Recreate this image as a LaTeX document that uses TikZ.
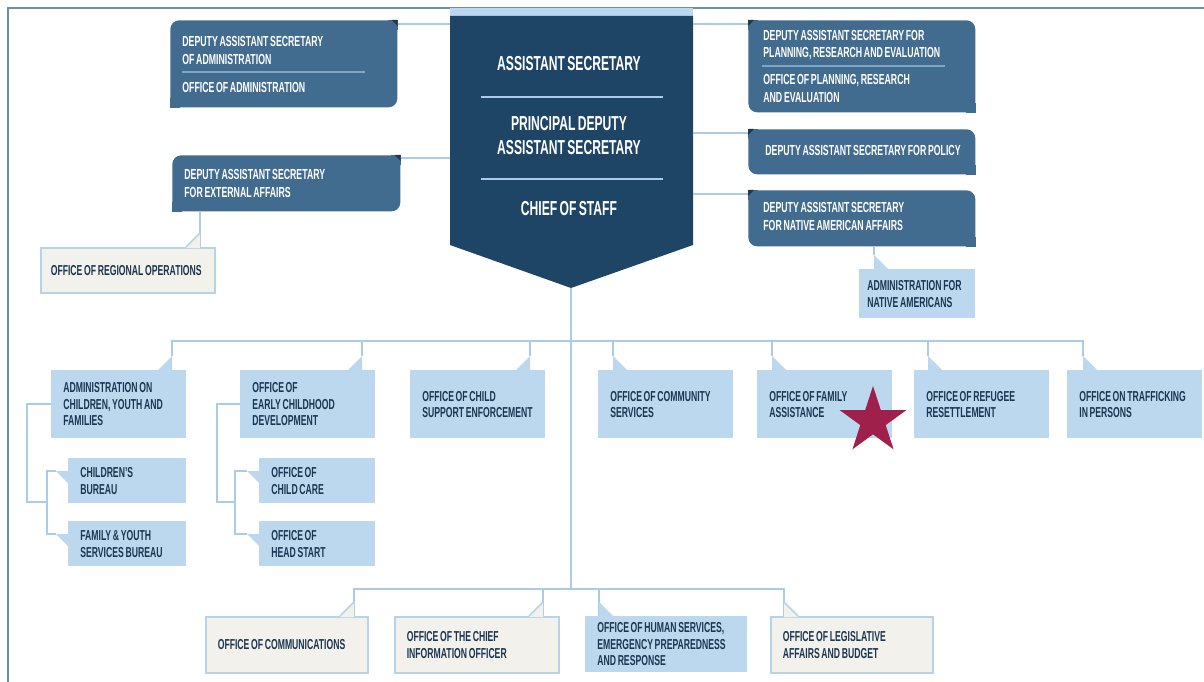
\documentclass[tikz,border=0pt]{standalone}
\usepackage{fontspec}
\setmainfont{Liberation Sans}[FakeStretch=0.6, WordSpace=0.7]
\usepackage{tikz}
\usetikzlibrary{shapes.geometric}

\definecolor{framec}{HTML}{6C8EAA}
\definecolor{chiefc}{HTML}{1F4566}
\definecolor{depc}{HTML}{426C8F}
\definecolor{foldc}{HTML}{1E3A52}
\definecolor{unitc}{HTML}{BCD8EE}
\definecolor{linkc}{HTML}{ABCCE6}
\definecolor{staffc}{HTML}{F3F1EC}
\definecolor{staffline}{HTML}{B6D3EA}
\definecolor{inkc}{HTML}{1C3652}
\definecolor{starc}{HTML}{A0204C}

\hyphenpenalty=10000
\exhyphenpenalty=10000

\begin{document}
\begin{tikzpicture}[x=0.02cm,y=-0.02cm,
  link/.style = {draw=linkc, line width=1.1pt},
  unit/.style = {anchor=north west, fill=unitc, text=inkc, align=flush left, inner xsep=0.24cm, inner ysep=0pt, minimum height=1.36cm, font=\fontsize{8.2}{9.4}\selectfont\bfseries},
  staff/.style = {unit, fill=staffc, draw=staffline, line width=0.9pt, minimum height=1.12cm},
  deputy/.style = {anchor=north west, fill=depc, rounded corners=5pt, inner sep=0pt},
  deptext/.style = {anchor=west, text=white, align=left, inner sep=0pt, font=\fontsize{8.3}{9.7}\selectfont\bfseries},
  chieftext/.style = {text=white, align=center, inner sep=0pt, font=\fontsize{11.5}{13.7}\selectfont\bfseries},
  tail/.style = {fill=unitc}]
\useasboundingbox (0,0) rectangle (1204,682);
\draw[framec, line width=1.4pt] (1204,8) -- (8,8) -- (8,682);

% pennant
\coordinate (chief-nw) at (450,16);
\coordinate (chief-ne) at (693,16);
\coordinate (chief-tip) at (571,288);
\fill[unitc] (450,8) rectangle (693,16);
\fill[chiefc] (chief-nw) -- (chief-ne) -- (693,245) -- (chief-tip) -- (450,245) -- cycle;
\node (as) at (569,64) [chieftext] {ASSISTANT SECRETARY};
\node (pdas) at (569,136) [chieftext] {PRINCIPAL DEPUTY\\ASSISTANT SECRETARY};
\node (cos) at (569,209) [chieftext] {CHIEF OF STAFF};
\draw[linkc, line width=0.8pt] (481,97) -- (663,97) (481,179) -- (663,179);

% deputy assistant secretaries
\node (dasa) at (170,20) [deputy, minimum width=4.54cm, minimum height=1.74cm] {};
\node (dase) at (172,155) [deputy, minimum width=4.56cm, minimum height=1.12cm] {};
\node (dasp) at (748,20) [deputy, minimum width=4.54cm, minimum height=1.84cm] {};
\node (dasq) at (748,129) [deputy, minimum width=4.54cm, minimum height=0.9cm] {};
\node (dasn) at (748,190) [deputy, minimum width=4.54cm, minimum height=1.12cm] {};
\foreach \n in {dasa,dase}{
  \fill[depc] (\n.south west) rectangle ++(10,-10);
  \fill[depc] (\n.north east) rectangle ++(-10,10);
  \fill[foldc] (\n.north east) -- ++(-6,0) -- ++(6,6) -- cycle;
}
\foreach \n in {dasp,dasq,dasn}{
  \fill[depc] (\n.south east) rectangle ++(-10,-10);
  \fill[depc] (\n.north west) rectangle ++(10,10);
  \fill[foldc] (\n.north west) -- ++(6,0) -- ++(-6,6) -- cycle;
}
\node (dasa-1) at (182,50.5) [deptext] {DEPUTY ASSISTANT SECRETARY\\OF ADMINISTRATION};
\draw[linkc!60!depc, line width=0.6pt] (182,72) -- (365,72);
\node (dasa-2) at (182,87) [deptext] {OFFICE OF ADMINISTRATION};
\node (dase-1) at (184,183.5) [deptext] {DEPUTY ASSISTANT SECRETARY\\FOR EXTERNAL AFFAIRS};
\node (dasp-1) at (763,45) [deptext] {DEPUTY ASSISTANT SECRETARY FOR\\PLANNING, RESEARCH AND EVALUATION};
\draw[linkc!60!depc, line width=0.6pt] (762,66) -- (945,66);
\node (dasp-2) at (763,88.5) [deptext] {OFFICE OF PLANNING, RESEARCH\\AND EVALUATION};
\node (dasq-1) at (765,150) [deptext] {DEPUTY ASSISTANT SECRETARY FOR POLICY};
\node (dasn-1) at (763,216.5) [deptext] {DEPUTY ASSISTANT SECRETARY\\FOR NATIVE AMERICAN AFFAIRS};

\node (oro) at (40,247) [staff, inner xsep=0.2cm, text width=3.08cm, minimum height=0.9cm] {OFFICE OF REGIONAL OPERATIONS};
\node (ana) at (859,269) [unit, inner xsep=0.16cm, text width=2.0cm, minimum height=0.98cm] {ADMINISTRATION FOR\\NATIVE AMERICANS};

% offices
\node (acyf) at (51,370) [unit, text width=2.22cm] {ADMINISTRATION ON\\CHILDREN, YOUTH AND\\FAMILIES};
\node (oecd) at (240,370) [unit, text width=2.22cm] {OFFICE OF\\EARLY CHILDHOOD\\DEVELOPMENT};
\node (ocse) at (410,370) [unit, text width=2.22cm] {OFFICE OF CHILD\\SUPPORT ENFORCEMENT};
\node (ocs) at (598,370) [unit, text width=2.22cm] {OFFICE OF COMMUNITY\\SERVICES};
\node (ofa) at (757,370) [unit, text width=2.22cm] {OFFICE OF FAMILY\\ASSISTANCE};
\node (orr) at (914,370) [unit, text width=2.22cm] {OFFICE OF REFUGEE\\RESETTLEMENT};
\node (otip) at (1067,370) [unit, text width=2.22cm] {OFFICE ON TRAFFICKING\\IN PERSONS};
\node (cb) at (68,458) [unit, text width=1.88cm, minimum height=0.9cm] {CHILDREN'S\\BUREAU};
\node (fysb) at (68,521) [unit, text width=1.88cm, minimum height=0.9cm] {FAMILY \& YOUTH\\SERVICES BUREAU};
\node (occ) at (259,458) [unit, text width=1.84cm, minimum height=0.9cm] {OFFICE OF\\CHILD CARE};
\node (ohs) at (259,521) [unit, text width=1.84cm, minimum height=0.9cm] {OFFICE OF\\HEAD START};
\node (comm) at (205,616) [staff, text width=2.76cm] {OFFICE OF COMMUNICATIONS};
\node (ocio) at (394,616) [staff, text width=2.8cm] {OFFICE OF THE CHIEF\\INFORMATION OFFICER};
\node (ohse) at (585,616) [unit, minimum height=1.12cm, text width=2.76cm] {OFFICE OF HUMAN SERVICES,\\EMERGENCY PREPAREDNESS\\AND RESPONSE};
\node (olab) at (770,616) [staff, text width=2.76cm] {OFFICE OF LEGISLATIVE\\AFFAIRS AND BUDGET};
\node (fav) at (873,421) [star, star points=5, star point ratio=2.618, fill=starc, inner sep=0pt, minimum size=1.4cm] {};

% connectors
\coordinate (l1) at (450,24);
\coordinate (l2) at (450,158);
\coordinate (r1) at (693,24);
\coordinate (r2) at (693,133);
\coordinate (r3) at (693,194);
\coordinate (bus) at (571,341);
\coordinate (bbus) at (571,589);
\coordinate (oro-t) at (200,233);
\coordinate (ana-t) at (874,255);
\coordinate (acyf-t) at (172,356);
\coordinate (oecd-t) at (362,356);
\coordinate (ocse-t) at (530,356);
\coordinate (ocs-t) at (613,356);
\coordinate (ofa-t) at (772,356);
\coordinate (orr-t) at (928,356);
\coordinate (otip-t) at (1083,356);
\coordinate (comm-t) at (354,602);
\coordinate (ocio-t) at (543,602);
\coordinate (ohse-t) at (599,602);
\coordinate (olab-t) at (784,602);
\coordinate (cb-t) at (56,471);
\coordinate (fysb-t) at (56,534);
\coordinate (occ-t) at (247,471);
\coordinate (ohs-t) at (247,534);
\coordinate (acyf-j) at (47,502);
\coordinate (oecd-j) at (235,502);

\draw[link] (l1 -| dasa.east) -- (l1);
\draw[link] (l2 -| dase.east) -- (l2);
\draw[link] (r1) -- (r1 -| dasp.west);
\draw[link] (r2) -- (r2 -| dasq.west);
\draw[link] (r3) -- (r3 -| dasn.west);
\draw[link] (oro-t |- dase.south) -- (oro-t |- oro.north);
\draw[link] (ana-t |- dasn.south) -- (ana-t);
\draw[link] (chief-tip) -- (bbus);
\draw[link] (acyf-t) -- (acyf-t |- bus) -- (otip-t |- bus) -- (otip-t);
\foreach \n in {oecd,ocse,ocs,ofa,orr} \draw[link] (\n-t) -- (\n-t |- bus);
\draw[link] (comm-t |- comm.north) -- (comm-t |- bbus) -- (olab-t |- bbus) -- (olab-t |- olab.north);
\foreach \n in {ocio,ohse} \draw[link] (\n-t |- \n.north) -- (\n-t |- bbus);
\draw[link] (acyf.west) -- ++(-24,0) |- (acyf-j);
\draw[link] (cb-t) -| (acyf-j);
\draw[link] (fysb-t) -| (acyf-j);
\draw[link] (oecd.west) -- ++(-23,0) |- (oecd-j);
\draw[link] (occ-t) -| (oecd-j);
\draw[link] (ohs-t) -| (oecd-j);

% tails
\foreach \n/\d in {acyf/-14,oecd/-14,ocse/-14,ocs/14,ofa/14,orr/14,otip/14,ohse/14,ana/14}
  \fill[tail] (\n-t) -- ++(\d,14) -- (\n-t |- \n.north) -- cycle;
\foreach \n/\d in {oro/-14,comm/-14,ocio/-14,olab/14}{
  \fill[staffc] (\n-t) -- ++(\d,15) -- ([yshift=-0.6pt]\n-t |- \n.north) -- cycle;
  \draw[staffline, line width=0.9pt] (\n-t) -- ++(\d,14);
}
\foreach \n in {cb,fysb,occ,ohs}
  \fill[tail] (\n-t) -- ++(12,0) -- ++(0,12) -- cycle;
\end{tikzpicture}
\end{document}
